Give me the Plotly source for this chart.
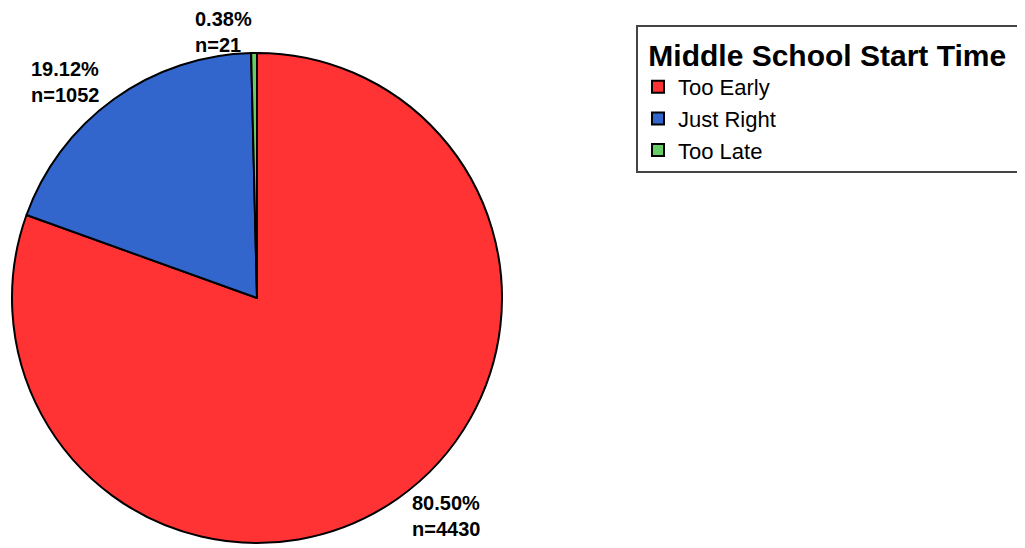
import numpy as np
import plotly.graph_objects as go

labels = ["Too Early", "Just Right", "Too Late"]
counts = [4430, 1052, 21]
pct_text = ["80.50%", "19.12%", "0.38%"]
colors = ["#FF3333", "#3366CC", "#66CC66"]

W, H = 1025, 548
# pie geometry (pixels, figure coordinates)
CX, CY, R = 249, 290, 245
LABEL_R = 266

fig = go.Figure(go.Pie(
    labels=labels,
    values=counts,
    textinfo="none",
    marker=dict(colors=colors, line=dict(color="black", width=2)),
    sort=False,
    direction="clockwise",
    rotation=0,
    showlegend=True,
    domain=dict(x=[(CX - R) / W, (CX + R) / W], y=[(H - CY - R) / H, (H - CY + R) / H]),
    hoverinfo="label+value+percent",
))

# outside labels at the mid-angle of each slice
vals = np.array(counts, dtype=float)
cum = np.cumsum(vals) - vals / 2
mid = cum / vals.sum() * 2 * np.pi  # clockwise from 12 o'clock
for ang, p, n in zip(mid, pct_text, counts):
    s, c = np.sin(ang), np.cos(ang)
    px = CX + LABEL_R * s
    py = CY - LABEL_R * c
    fig.add_annotation(
        x=px / W, y=1 - py / H, xref="paper", yref="paper",
        text=f"<b>{p}<br>n={n}</b>",
        showarrow=False, align="left",
        xanchor="left" if s > 0 else "right", yanchor="middle",
        font=dict(family="Liberation Sans, Arial", size=20, color="black"),
    )

fig.update_layout(
    width=W, height=H,
    margin=dict(l=0, r=0, t=0, b=0),
    paper_bgcolor="white",
    plot_bgcolor="white",
    font=dict(family="Liberation Sans, Arial", color="black"),
    legend=dict(
        title=dict(text="\u00a0<b>Middle School Start Time</b>\u00a0", font=dict(size=30, color="black"), side="top"),
        font=dict(size=22, color="black"),
        x=628 / W, y=1 - 17 / H, xanchor="left", yanchor="top",
        bordercolor="#444444", borderwidth=2, bgcolor="white",
        itemsizing="constant",
    ),
)

fig.write_html("out.html")
